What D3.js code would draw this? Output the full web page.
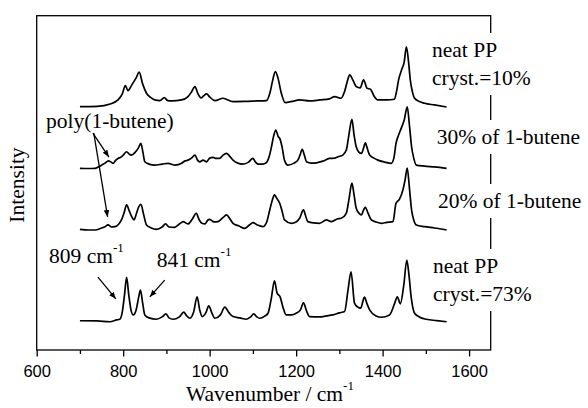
<!DOCTYPE html>
<html>
<head>
<meta charset="utf-8">
<script src="https://cdn.jsdelivr.net/npm/d3@7"></script>
<style>
  body { margin: 0; background: #fff; }
  svg { display: block; }
</style>
</head>
<body>
<div id="chart"></div>
<script>
// Raman spectra, [wavenumber, intensity above own baseline]
const neatPP10 = [
  [700, -0.2], [740, -0.1], [770, 0.6], [788, 1.8], [798, 3.6], [805, 6.1], [811, 4.6],
  [820, 6.3], [830, 8.4], [837, 10.1], [845, 6.6], [854, 3.8], [865, 2.4], [873, 1.8],
  [885, 1.6], [895, 2.5], [903, 1.6], [912, 1.5], [935, 1.8], [950, 2.8], [958, 4.2],
  [966, 5.8], [973, 3.6], [980, 2.4], [986, 3.0], [993, 3.6], [1000, 2.7], [1012, 1.6],
  [1031, 2.3], [1054, 1.3], [1080, 1.35], [1110, 1.5], [1131, 1.6], [1140, 4.2],
  [1146, 7.8], [1152, 10.3], [1158, 8.4], [1165, 4.2], [1175, 1.0], [1190, 1.35],
  [1208, 1.8], [1231, 1.5], [1255, 1.8], [1277, 2.1], [1289, 2.8], [1304, 2.3],
  [1312, 4.3], [1318, 7.2], [1324, 9.3], [1331, 7.8], [1339, 5.8], [1348, 5.4],
  [1356, 7.8], [1364, 5.3], [1372, 5.0], [1380, 3.0], [1389, 1.8], [1410, 1.8],
  [1427, 2.0], [1432, 4.2], [1437, 7.8], [1444, 10.8], [1450, 13.2], [1455, 17.7],
  [1460, 13.2], [1464, 7.8], [1469, 4.2], [1474, 2.3], [1485, 1.35], [1497, 0.8],
  [1520, 0.3], [1548, -0.3]
];
const butene30 = [
  [700, -0.15], [720, -0.2], [735, -0.15], [745, 0.4], [750, 0.8], [758, 1.4], [766, 2.1],
  [772, 1.7], [777, 1.35], [783, 2.3], [788, 2.8], [795, 3.2], [800, 3.8], [808, 4.8],
  [814, 4.1], [819, 3.8], [828, 4.7], [835, 5.9], [841, 7.3], [846, 4.4], [850, 1.8],
  [860, 1.1], [873, 0.8], [890, 1.1], [904, 1.35], [920, 0.8], [935, 1.35], [942, 2.0],
  [950, 2.3], [958, 2.9], [966, 3.8], [972, 2.3], [977, 1.8], [985, 2.3], [993, 1.8],
  [1000, 2.9], [1008, 3.1], [1015, 2.8], [1023, 2.8], [1031, 3.8], [1039, 4.3],
  [1046, 3.5], [1054, 2.3], [1065, 1.4], [1077, 1.1], [1090, 1.7], [1100, 2.8],
  [1106, 1.7], [1112, 1.1], [1122, 1.1], [1131, 1.5], [1138, 3.5], [1143, 6.3],
  [1148, 9.5], [1153, 11.3], [1158, 9.5], [1163, 8.5], [1168, 5.9], [1173, 2.3],
  [1181, 0.8], [1195, 1.4], [1204, 2.3], [1209, 3.8], [1214, 5.5], [1219, 3.8],
  [1224, 1.8], [1235, 1.4], [1247, 1.5], [1262, 2.0], [1277, 2.8], [1290, 2.9],
  [1297, 3.3], [1308, 3.8], [1316, 5.3], [1322, 9.8], [1329, 14.5], [1334, 9.8],
  [1339, 6.3], [1345, 4.7], [1351, 4.3], [1356, 5.9], [1360, 7.5], [1365, 5.6],
  [1370, 3.8], [1380, 2.9], [1389, 2.3], [1405, 1.7], [1420, 1.35], [1426, 2.9],
  [1431, 7.3], [1437, 9.8], [1443, 11.8], [1450, 14.3], [1457, 18.2], [1462, 12.8],
  [1467, 6.3], [1472, 2.9], [1478, 0.8], [1497, 0.5], [1520, 0.25], [1548, -0.15]
];
const butene20 = [
  [700, 0.1], [720, -0.1], [735, -0.1], [750, 0.5], [758, 0.9], [765, 1.4], [773, 0.8],
  [781, 0.9], [790, 1.7], [796, 2.9], [802, 5.0], [808, 7.4], [814, 5.6], [820, 3.8],
  [825, 2.9], [831, 5.0], [836, 6.8], [841, 7.6], [847, 4.7], [854, 1.4], [865, 0.5],
  [877, 0.1], [890, 0.8], [898, 1.7], [906, 0.8], [919, 0.7], [930, 1.7], [939, 2.4],
  [945, 2.0], [950, 1.7], [960, 3.2], [969, 4.9], [976, 2.9], [982, 1.9], [989, 1.7],
  [996, 2.9], [1000, 3.1], [1010, 2.3], [1019, 2.4], [1030, 3.5], [1039, 4.4],
  [1047, 3.2], [1054, 1.9], [1068, 1.1], [1081, 0.4], [1092, 1.4], [1100, 2.1],
  [1110, 1.4], [1123, 0.9], [1132, 2.3], [1139, 5.9], [1145, 8.9], [1150, 10.4],
  [1156, 9.2], [1162, 7.9], [1168, 5.3], [1173, 2.9], [1189, 1.9], [1200, 2.3],
  [1208, 3.4], [1217, 5.9], [1222, 4.1], [1227, 2.4], [1240, 2.0], [1254, 1.9],
  [1270, 2.9], [1281, 2.4], [1295, 3.2], [1304, 3.4], [1316, 4.9], [1322, 8.9],
  [1329, 13.9], [1334, 10.4], [1339, 6.4], [1345, 5.0], [1351, 4.4], [1356, 5.9],
  [1360, 6.7], [1366, 5.0], [1374, 2.9], [1385, 2.3], [1397, 1.9], [1410, 2.2],
  [1424, 2.4], [1431, 7.9], [1439, 9.1], [1447, 11.9], [1452, 14.9], [1457, 18.4],
  [1462, 12.5], [1467, 5.9], [1472, 2.9], [1478, 1.4], [1497, 0.9], [1520, 0.5],
  [1548, -0.1]
];
const neatPP73 = [
  [700, -0.25], [740, -0.3], [769, -0.55], [785, 0], [792, 0.2], [798, 2.4], [803, 7.4],
  [808, 12.7], [813, 7.4], [818, 3.0], [823, 1.5], [830, 3.0], [836, 6.9], [840, 8.9],
  [845, 5.1], [850, 1.5], [860, 0.6], [877, 0.2], [890, 0.9], [899, 1.8], [906, 0.6],
  [915, 0.2], [930, 0.9], [940, 2.3], [947, 1.2], [954, 0.5], [963, 2.4], [971, 6.9],
  [977, 3.0], [983, 1.0], [991, 2.1], [998, 4.2], [1005, 2.1], [1012, 0.5], [1025, 1.5],
  [1035, 3.8], [1045, 2.1], [1054, 1.0], [1070, 0.6], [1085, 0.2], [1095, 0.9],
  [1102, 1.8], [1109, 0.9], [1116, 0.5], [1128, 1.2], [1135, 2.0], [1142, 6.0],
  [1150, 11.7], [1156, 8.0], [1163, 6.9], [1170, 3.6], [1177, 1.5], [1190, 1.5],
  [1200, 2.0], [1210, 3.0], [1217, 5.1], [1224, 2.7], [1231, 1.0], [1254, 0.9],
  [1270, 1.2], [1285, 1.5], [1300, 2.1], [1312, 2.5], [1320, 8.9], [1327, 14.4],
  [1335, 5.0], [1342, 3.9], [1349, 3.5], [1358, 6.8], [1364, 4.8], [1370, 3.0],
  [1385, 1.2], [1397, 0.8], [1416, 1.5], [1428, 5.0], [1434, 6.9], [1441, 4.8],
  [1449, 10.4], [1456, 17.9], [1461, 13.4], [1466, 6.9], [1474, 2.0], [1485, 0.9],
  [1501, 0.2], [1525, -0.2], [1548, -0.55]
];

const spectra = [neatPP10, butene30, butene20, neatPP73];
const offsets = [73, 54.5, 36, 9];

const xMajorTicks = [600, 800, 1000, 1200, 1400, 1600];
const xMinorTicks = [700, 900, 1100, 1300, 1500];

const width = 588, height = 408;
const margin = { top: 15.7, right: 97.3, bottom: 58, left: 36.7 };
const serif = "'Liberation Serif', 'Times New Roman', serif";
const sans = "'Liberation Sans', Arial, sans-serif";

const svg = d3.select("#chart").append("svg")
  .attr("width", width)
  .attr("height", height);

const x = d3.scaleLinear()
  .domain([600, 1650])
  .range([margin.left, width - margin.right]);
const y = d3.scaleLinear()
  .domain([0, 100])
  .range([height - margin.bottom, margin.top]);

// frame
svg.append("rect")
  .attr("x", x(600))
  .attr("y", y(100))
  .attr("width", x(1650) - x(600))
  .attr("height", y(0) - y(100))
  .attr("fill", "none")
  .attr("stroke", "#000")
  .attr("stroke-width", 1.3);

// x axis, major + minor ticks pointing out
const xAxis = svg.append("g")
  .attr("transform", "translate(0," + y(0) + ")")
  .call(d3.axisBottom(x).tickValues(xMajorTicks).tickSize(6.5).tickPadding(8.5).tickFormat(d3.format("d")));
xAxis.select(".domain").remove();
xAxis.selectAll("line").attr("stroke-width", 1.3);
xAxis.selectAll("text").attr("font-family", sans).attr("font-size", 16.5).attr("fill", "#000");

const xMinor = svg.append("g")
  .attr("transform", "translate(0," + y(0) + ")")
  .call(d3.axisBottom(x).tickValues(xMinorTicks).tickSize(4).tickFormat(""));
xMinor.select(".domain").remove();
xMinor.selectAll("line").attr("stroke-width", 1.3);

// trace labels (right side), white boxes break the frame line
const labels = [
  { lines: ["neat PP", "cryst.=10%"], x: 432, y: 57 },
  { lines: ["30% of 1-butene"], x: 436.7, y: 144 },
  { lines: ["20% of 1-butene"], x: 438, y: 208 },
  { lines: ["neat PP", "cryst.=73%"], x: 433, y: 273 }
];
const boxLayer = svg.append("g");

// spectra
const line = d3.line()
  .x(d => x(d[0]))
  .y(d => d[1])
  .curve(d3.curveMonotoneX);

spectra.forEach(function (s, i) {
  svg.append("path")
    .datum(s.map(d => [d[0], y(d[1] + offsets[i])]))
    .attr("fill", "none")
    .attr("stroke", "#000")
    .attr("stroke-width", 1.7)
    .attr("stroke-linejoin", "round")
    .attr("d", line);
});

labels.forEach(function (l) {
  const t = svg.append("text")
    .attr("font-family", serif)
    .attr("font-size", 21.5)
    .attr("fill", "#000");
  l.lines.forEach(function (s, j) {
    t.append("tspan").attr("x", l.x).attr("y", l.y + j * 28).text(s);
  });
  const b = t.node().getBBox();
  boxLayer.append("rect")
    .attr("x", b.x - 2)
    .attr("y", b.y - 5)
    .attr("width", b.width + 4)
    .attr("height", b.height + 10)
    .attr("fill", "#fff");
});

// annotations
svg.append("defs").append("marker")
  .attr("id", "head")
  .attr("viewBox", "0 0 10 10")
  .attr("refX", 10)
  .attr("refY", 5)
  .attr("markerWidth", 7)
  .attr("markerHeight", 7)
  .attr("markerUnits", "userSpaceOnUse")
  .attr("orient", "auto")
  .append("path")
  .attr("d", "M0,1 L10,5 L0,9 Z")
  .attr("fill", "#000");

const arrows = [
  [[730, 64.9], [767, 57.7]],
  [[732, 64.9], [764, 39.8]],
  [[741.6, 21.8], [783, 15.3]],
  [[896, 20.9], [861.7, 15.9]]
];
arrows.forEach(function (a) {
  svg.append("line")
    .attr("x1", x(a[0][0])).attr("y1", y(a[0][1]))
    .attr("x2", x(a[1][0])).attr("y2", y(a[1][1]))
    .attr("stroke", "#000")
    .attr("stroke-width", 1.3)
    .attr("marker-end", "url(#head)");
});

function serifText(px, py, main, sup) {
  const t = svg.append("text")
    .attr("x", px).attr("y", py)
    .attr("font-family", serif)
    .attr("font-size", 21.5)
    .attr("fill", "#000");
  t.append("tspan").text(main);
  if (sup) t.append("tspan").attr("dy", -11).attr("font-size", 13).text(sup);
  return t;
}

serifText(46, 128, "poly(1-butene)");
serifText(49, 263, "809 cm", "-1");
serifText(156.7, 267, "841 cm", "-1");
serifText(186, 401, "Wavenumber / cm", "-1");

svg.append("text")
  .attr("transform", "translate(24," + 185 + ") rotate(-90)")
  .attr("text-anchor", "middle")
  .attr("font-family", serif)
  .attr("font-size", 21.5)
  .attr("fill", "#000")
  .text("Intensity");
</script>
</body>
</html>
